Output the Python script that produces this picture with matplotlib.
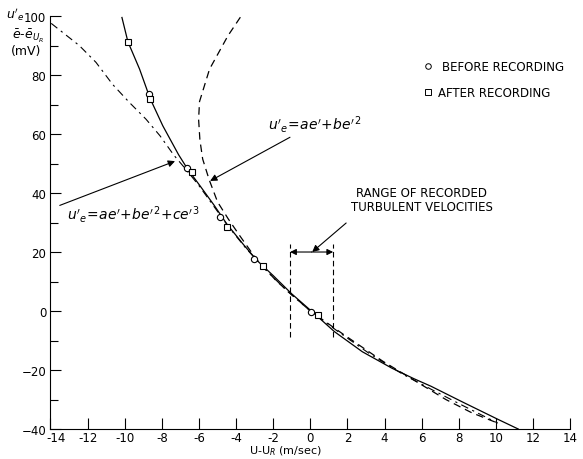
import matplotlib
matplotlib.use('Agg')
import matplotlib.pyplot as plt
import matplotlib.transforms as mtransforms
import numpy as np

# calibration points (U-U_R in m/sec, voltage in mV)
before_x = [-8.7, -6.65, -4.89, -3.06, 0.05]
before_y = [73.5, 48.6, 31.7, 17.8, -0.4]
after_x = [-9.83, -8.63, -6.38, -4.49, -2.55, 0.41]
after_y = [91.3, 71.8, 47.2, 28.6, 15.1, -1.2]

# calibration curve (solid)
curve_x = [-10.15, -9.83, -9.2, -8.63, -7.95, -7.1, -6.6, -5.95, -5.2, -4.5,
           -3.6, -2.85, -2.0, -1.0, 0.2, 1.3, 2.8, 4.4, 5.6, 6.5, 8.25, 10.1, 11.2]
curve_y = [99.5, 91.3, 82.0, 72.0, 62.8, 53.0, 48.0, 42.5, 36.0, 29.5,
           22.5, 17.0, 12.0, 5.8, -0.8, -7.0, -13.8, -19.4, -23.0, -25.5, -31.0, -36.7, -40.0]

# quadratic fit u'e = ae' + be'^2 (dashed)
quad_x = [-3.77, -4.44, -5.43, -5.97, -6.02, -5.95, -5.8, -5.45, -5.0, -4.42,
          -3.8, -2.9, -1.8, 0.0, 1.8, 3.9, 5.6, 7.3, 8.7, 10.1]
quad_y = [99.6, 93.3, 82.0, 71.0, 65.0, 58.0, 51.5, 44.5, 37.0, 31.2,
          25.5, 17.5, 10.0, 0.0, -8.0, -17.0, -23.5, -30.0, -34.5, -38.0]

# cubic fit u'e = ae' + be'^2 + ce'^3 (dash-dot)
cubic_x = [-13.96, -12.45, -11.55, -10.65, -9.75, -8.85, -8.1, -7.35, -6.7, -6.0,
           -5.2, -4.4, -3.5, -2.5, -1.2, 0.0, 1.5, 3.2, 5.0, 6.5, 8.2, 10.1]
cubic_y = [97.5, 90.0, 84.3, 76.8, 70.7, 65.0, 59.4, 52.8, 48.0, 42.5,
           35.5, 28.5, 21.5, 14.5, 6.5, 0.0, -7.0, -14.5, -21.5, -26.5, -32.0, -38.0]

# range of recorded turbulent velocities
range_lo = -1.09
range_hi = 1.23

xticks = list(range(-14, 15, 2))
yticks = list(range(-40, 101, 20))
yminor = list(range(-30, 100, 20))

plt.rcParams['font.family'] = 'DejaVu Sans'
fig = plt.figure(figsize=(5.83, 4.6), dpi=100)
ax = fig.add_axes([0.0866, 0.0652, 0.8914, 0.8978])

ax.plot(curve_x, curve_y, color='black', lw=0.9)
ax.plot(quad_x, quad_y, color='black', lw=0.9, linestyle=(0, (6, 4)))
ax.plot(cubic_x, cubic_y, color='black', lw=0.8, linestyle=(0, (7, 4, 2, 4)))

ax.plot(before_x, before_y, 'o', ms=4.5, mfc='white', mec='black', mew=0.8)
ax.plot(after_x, after_y, 's', ms=5, mfc='white', mec='black', mew=0.8)

# legend drawn by hand like the original
ax.plot([6.35], [83.0], 'o', ms=4, mfc='white', mec='black', mew=0.7, clip_on=False)
ax.plot([6.35], [74.2], 's', ms=4.5, mfc='white', mec='black', mew=0.7, clip_on=False)
ax.text(7.1, 83.0, 'BEFORE RECORDING', fontsize=8.5, va='center', ha='left')
ax.text(6.9, 74.2, 'AFTER RECORDING', fontsize=8.5, va='center', ha='left')

# fit labels
ax.annotate(r"$u'_e\!=\!ae'\!+\!be'^2$", xy=(-5.40, 44.1), xytext=(-2.3, 63.4),
            fontsize=10, va='center', ha='left',
            arrowprops=dict(arrowstyle='-|>', color='black', lw=0.8,
                            shrinkA=0, shrinkB=0, mutation_scale=10))
ax.text(-13.1, 33.0, r"$u'_e\!=\!ae'\!+\!be'^2\!+\!ce'^3$", fontsize=10,
        va='center', ha='left')
ax.annotate('', xy=(-7.29, 50.8), xytext=(-13.5, 35.8),
            arrowprops=dict(arrowstyle='-|>', color='black', lw=0.8,
                            shrinkA=0, shrinkB=0, mutation_scale=10))

# range of recorded velocities
ax.vlines([range_lo, range_hi], -8.8, 22.7, colors='black', lw=0.8, linestyles=(0, (5, 3)))
mid = 0.5 * (range_lo + range_hi)
for end in (range_lo, range_hi):
    ax.annotate('', xy=(end, 20), xytext=(mid, 20),
                arrowprops=dict(arrowstyle='-|>', color='black', lw=0.8,
                                shrinkA=0, shrinkB=0, mutation_scale=9))
ax.annotate('RANGE OF RECORDED\nTURBULENT VELOCITIES', xy=(0.1, 20), xytext=(6.0, 37.8),
            fontsize=8.5, ha='center', va='center', linespacing=1.1,
            arrowprops=dict(arrowstyle='-|>', color='black', lw=0.8,
                            shrinkA=8, shrinkB=0, mutation_scale=10,
                            relpos=(0.05, 0)))

ax.set_xlim(-14, 14)
ax.set_ylim(-40, 100)
ax.set_xticks(xticks)
ax.set_xticklabels([str(t) for t in xticks])
ax.set_yticks(yticks)
ax.set_yticks(yminor, minor=True)
ax.tick_params(axis='both', which='major', direction='in', length=8, width=0.8,
               labelsize=8.5)
ax.tick_params(axis='x', pad=1.5)
ax.tick_params(axis='y', pad=3)
ax.tick_params(axis='y', which='minor', direction='in', length=6, width=0.8)
ax.spines['top'].set_visible(False)
ax.spines['right'].set_visible(False)
ax.spines['left'].set_linewidth(0.8)
ax.spines['bottom'].set_linewidth(0.8)

# nudge the first x label off the corner, as in the original
first = ax.get_xticklabels()[0]
first.set_transform(first.get_transform() +
                    mtransforms.ScaledTranslation(6 / 100, 0, fig.dpi_scale_trans))

fig.text(285 / 583, 1 - 451 / 460, r'U-U$_R$ (m/sec)', fontsize=8, ha='center', va='center')
fig.text(15 / 583, 1 - 15 / 460, r"$u'_e$", fontsize=9, ha='center', va='center')
fig.text(28 / 583, 1 - 36 / 460, r'$\bar{e}$-$\bar{e}_{U_R}$', fontsize=9, ha='center', va='center')
fig.text(26 / 583, 1 - 51 / 460, '(mV)', fontsize=9, ha='center', va='center')

fig.savefig('out.png', dpi=100)
